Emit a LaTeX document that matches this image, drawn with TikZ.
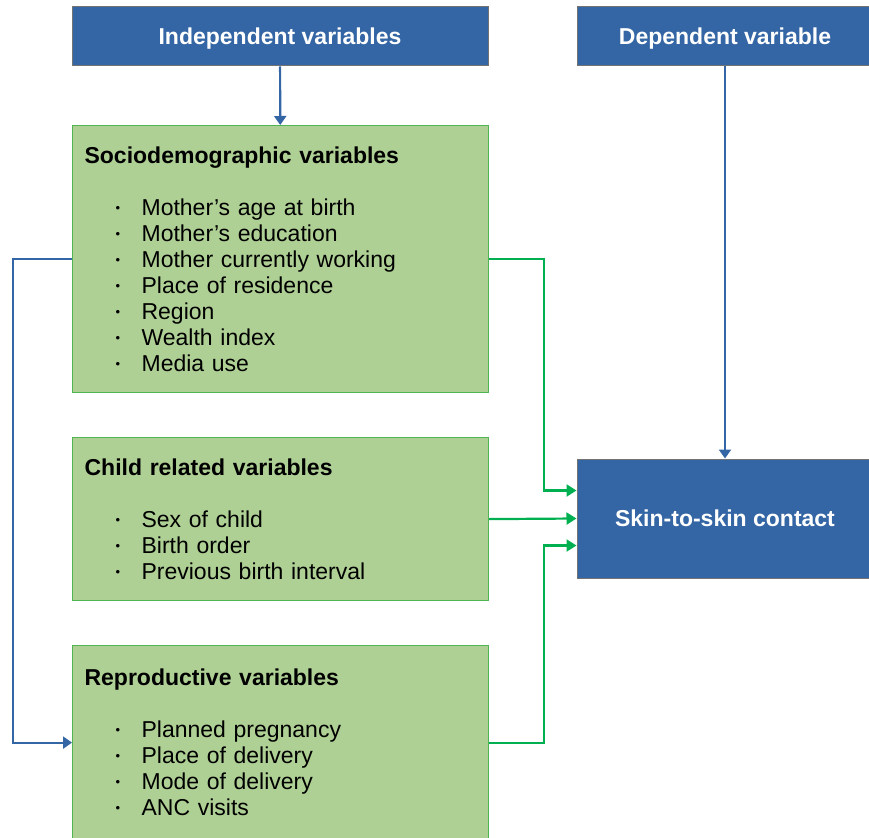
\documentclass[tikz,border=0pt]{standalone}
\usepackage{fontspec}
\setmainfont{Liberation Sans}
\usetikzlibrary{arrows.meta}
\definecolor{headblue}{RGB}{52,101,164}
\definecolor{boxfill}{RGB}{174,208,148}
\definecolor{boxgreen}{RGB}{80,180,80}
\definecolor{arrgreen}{RGB}{0,176,80}
\newcommand{\itm}[1]{\hspace*{31pt}\makebox[26pt][l]{\raisebox{3pt}{\fontsize{13}{13}\selectfont •}}#1}
\begin{document}
\begin{tikzpicture}[x=1pt,y=-1pt,
    every node/.style={font=\fontsize{23}{26}\selectfont},
    headbox/.style={draw=black!55,line width=1pt,fill=headblue,text=white,font=\fontsize{23}{26}\selectfont\bfseries,minimum width=296pt,minimum height=59pt,inner sep=0pt},
    varbox/.style={draw=boxgreen,line width=1.2pt,fill=boxfill,anchor=north west,align=left,text width=392pt,inner xsep=12pt,inner ysep=0pt},
    bluearr/.style={draw=headblue,line width=2.2pt,-{Triangle[length=9pt,width=12pt]}},
    greenarr/.style={draw=arrgreen,line width=2.2pt,-{Triangle[length=10pt,width=12pt]}}]
    \useasboundingbox (0,0) rectangle (869,837);
    % top row
    \node[headbox,minimum width=416pt,text depth=0pt] (indep) at (280,36.5) {Independent variables};
    \node[headbox,text depth=0pt] (dep) at (725,36.5) {Dependent variable};
    % left column
    \node[varbox,minimum height=267pt] (socio) at (72,125) {{\bfseries Sociodemographic variables}\\[26pt]
        \itm{Mother’s age at birth}\\ \itm{Mother’s education}\\ \itm{Mother currently working}\\
        \itm{Place of residence}\\ \itm{Region}\\ \itm{Wealth index}\\ \itm{Media use}};
    \node[varbox,minimum height=163pt] (child) at (72,437) {{\bfseries Child related variables}\\[26pt]
        \itm{Sex of child}\\ \itm{Birth order}\\ \itm{Previous birth interval}};
    \node[varbox,minimum height=194pt] (repro) at (72,645) {{\bfseries Reproductive variables}\\[26pt]
        \itm{Planned pregnancy}\\ \itm{Place of delivery}\\ \itm{Mode of delivery}\\ \itm{ANC visits}};
    % outcome
    \node[headbox,minimum height=119pt] (skin) at (725,518.5) {Skin-to-skin contact};
    % connectors
    \draw[bluearr] (indep) -- (socio);
    \draw[bluearr] (dep) -- (skin);
    \draw[bluearr] (socio.west) -- ++(-59,0) |- (repro.west);
    \draw[greenarr] (socio.east) -- ++(55,0) |- ([yshift=28pt]skin.west);
    \draw[greenarr] (child.east) -- (skin.west);
    \draw[greenarr] (repro.east) -- ++(55,0) |- ([yshift=-27pt]skin.west);
\end{tikzpicture}
\end{document}
